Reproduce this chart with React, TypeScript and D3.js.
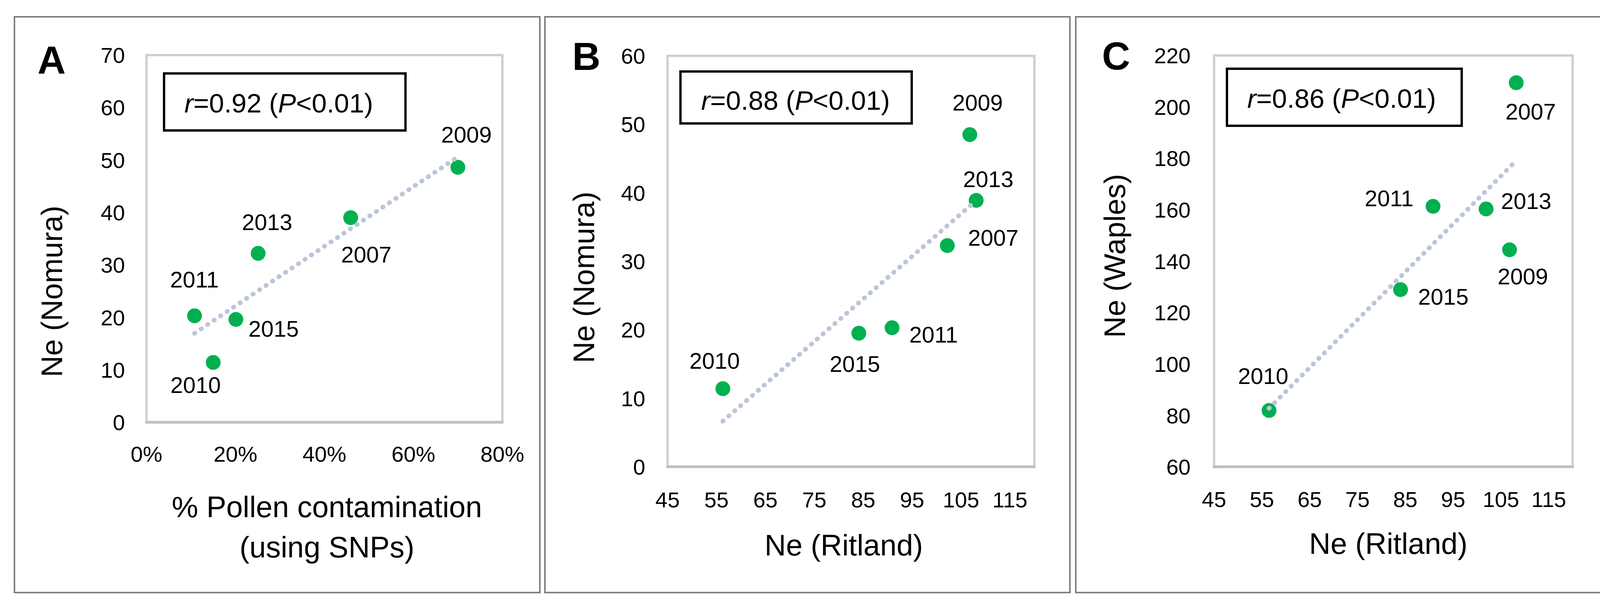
import React from 'react';
import { scaleLinear, line, format, mean, extent } from 'd3';

// Panel A: Ne (Nomura) vs % pollen contamination
const aYears = ['2009', '2007', '2013', '2011', '2015', '2010'];
const aPollen = [0.70, 0.459, 0.251, 0.108, 0.201, 0.150];
const aNomura = [48.6, 39.0, 32.2, 20.3, 19.6, 11.4];

// Panel B: Ne (Nomura) vs Ne (Ritland)
const bYears = ['2009', '2013', '2007', '2011', '2015', '2010'];
const bRitland = [106.8, 108.1, 102.2, 90.9, 84.1, 56.3];
const bNomura = [48.5, 38.9, 32.3, 20.3, 19.5, 11.4];

// Panel C: Ne (Waples) vs Ne (Ritland)
const cYears = ['2007', '2011', '2013', '2009', '2015', '2010'];
const cRitland = [108.2, 90.8, 101.9, 106.8, 84.0, 56.5];
const cWaples = [209.4, 161.3, 160.3, 144.4, 128.9, 81.9];

// ticks
const pollenTicks = [0, 0.2, 0.4, 0.6, 0.8];
const ritlandTicks = [45, 55, 65, 75, 85, 95, 105, 115];
const aYTicks = [0, 10, 20, 30, 40, 50, 60, 70];
const bYTicks = [0, 10, 20, 30, 40, 50, 60];
const cYTicks = [60, 80, 100, 120, 140, 160, 180, 200, 220];

const FONT = '"Liberation Sans", Arial, sans-serif';
const GREEN = '#00B050';

type Anchor = 'start' | 'middle' | 'end';
type LabelPos = [Anchor, number, number];

// where each year label sits, relative to its dot (anchor, dx, dy to baseline)
const aLabelPos: LabelPos[] = [
  ['middle', 22, -63], ['middle', 40, 115], ['middle', 23, -60],
  ['middle', 0, -72], ['start', 32, 44], ['middle', -45, 78],
];
const bLabelPos: LabelPos[] = [
  ['middle', 20, -62], ['middle', 31, -34], ['start', 53, 0],
  ['start', 44, 38], ['middle', -10, 99], ['middle', -21, -51],
];
const cLabelPos: LabelPos[] = [
  ['middle', 37, 94], ['end', -50, 0], ['start', 38, 0],
  ['middle', 34, 88], ['start', 45, 38], ['middle', -15, -68],
];

function fitLine(xs: number[], ys: number[]) {
  const mx = mean(xs) as number;
  const my = mean(ys) as number;
  let sxy = 0, sxx = 0;
  xs.forEach((x, i) => {
    sxy += (x - mx) * (ys[i] - my);
    sxx += (x - mx) * (x - mx);
  });
  const slope = sxy / sxx;
  return (x: number) => my + slope * (x - mx);
}

interface PanelProps {
  letter: string;
  frame: [number, number, number, number]; // x0, y0, x1, y1
  plot: [number, number, number, number];
  xDomain: [number, number];
  yDomain: [number, number];
  xTicks: number[];
  yTicks: number[];
  xFmt: (v: number) => string;
  xs: number[];
  ys: number[];
  years: string[];
  labelPos: LabelPos[];
  r: string;
  box: [number, number, number, number];
  rTextX: number;
  rTextY: number;
  yTitle: string;
  yTitleX: number;
  yTitleY: number;
  xTitle: string[];
  xTitleX: number;
  xTitleY: number;
  xTickY: number;
  yTickX: number;
  letterX: number;
  letterY: number;
}

const Panel: React.FC<PanelProps> = (p) => {
  const [px0, py0, px1, py1] = p.plot;
  const x = scaleLinear().domain(p.xDomain).range([px0, px1]);
  const y = scaleLinear().domain(p.yDomain).range([py1, py0]);
  const f = fitLine(p.xs, p.ys);
  const [xmin, xmax] = extent(p.xs) as [number, number];
  const trend = line<number>().x((d) => x(d)).y((d) => y(f(d)))([xmin, xmax]) || '';
  const [fx0, fy0, fx1, fy1] = p.frame;
  const [bx0, by0, bx1, by1] = p.box;

  return (
    <g fontFamily={FONT} fill="#000">
      <rect x={fx0} y={fy0} width={fx1 - fx0} height={fy1 - fy0} fill="#fff" stroke="#808080" strokeWidth={4} />
      <text x={p.letterX} y={p.letterY} fontSize={100} fontWeight="bold">{p.letter}</text>

      {/* plot area */}
      <rect x={px0} y={py0} width={px1 - px0} height={py1 - py0} fill="none" stroke="#CFCFCF" strokeWidth={6} />
      <line x1={px0 - 3} x2={px1 + 3} y1={py1} y2={py1} stroke="#BFBFBF" strokeWidth={7} />

      {p.yTicks.map((t) => (
        <text key={'y' + t} x={p.yTickX} y={y(t)} dy="0.36em" textAnchor="end" fontSize={56}>{t}</text>
      ))}
      {p.xTicks.map((t) => (
        <text key={'x' + t} x={x(t)} y={p.xTickY} textAnchor="middle" fontSize={56}>{p.xFmt(t)}</text>
      ))}

      {/* correlation box */}
      <rect x={bx0} y={by0} width={bx1 - bx0} height={by1 - by0} fill="#fff" stroke="#000" strokeWidth={6} />
      <text x={p.rTextX} y={p.rTextY} fontSize={69}>
        <tspan fontStyle="italic">r</tspan>
        <tspan>{'=' + p.r + ' ('}</tspan>
        <tspan fontStyle="italic">P</tspan>
        <tspan>{'<0.01)'}</tspan>
      </text>

      {p.xs.map((v, i) => (
        <circle key={'c' + i} cx={x(v)} cy={y(p.ys[i])} r={19} fill={GREEN} />
      ))}
      <path d={trend} fill="none" stroke="#BCC6D9" strokeWidth={12} strokeLinecap="round" strokeDasharray="1 19" />

      {p.xs.map((v, i) => {
        const [anchor, dx, dy] = p.labelPos[i];
        return (
          <text key={'l' + i} x={x(v) + dx} y={y(p.ys[i]) + dy} textAnchor={anchor} fontSize={58}>{p.years[i]}</text>
        );
      })}

      <text transform={`translate(${p.yTitleX},${p.yTitleY}) rotate(-90)`} textAnchor="middle" fontSize={76}>{p.yTitle}</text>
      {p.xTitle.map((s, i) => (
        <text key={'t' + i} x={p.xTitleX} y={p.xTitleY + i * 103} textAnchor="middle" fontSize={76}>{s}</text>
      ))}
    </g>
  );
};

const pct = format('.0%');
const plain = (v: number) => String(v);

export default function App() {
  return (
    <div style={{ position: 'absolute', left: 0, top: 0 }}>
      <svg width={4142} height={1554} style={{ display: 'block', background: '#fff' }}>
        <Panel
          letter="A" frame={[37, 43, 1382, 1517]} plot={[375, 141, 1286, 1081]}
          xDomain={[0, 0.8]} yDomain={[0, 70]} xTicks={pollenTicks} yTicks={aYTicks} xFmt={pct}
          xs={aPollen} ys={aNomura} years={aYears} labelPos={aLabelPos}
          r="0.92" box={[420, 188, 1038, 334]} rTextX={472} rTextY={288}
          yTitle="Ne (Nomura)" yTitleX={159} yTitleY={746}
          xTitle={['% Pollen contamination', '(using SNPs)']} xTitleX={837} xTitleY={1324}
          xTickY={1182} yTickX={320} letterX={96} letterY={189}
        />
        <Panel
          letter="B" frame={[1395, 43, 2739, 1517]} plot={[1709, 143, 2648, 1195]}
          xDomain={[45, 120]} yDomain={[0, 60]} xTicks={ritlandTicks} yTicks={bYTicks} xFmt={plain}
          xs={bRitland} ys={bNomura} years={bYears} labelPos={bLabelPos}
          r="0.88" box={[1742, 183, 2334, 316]} rTextX={1795} rTextY={281}
          yTitle="Ne (Nomura)" yTitleX={1521} yTitleY={710}
          xTitle={['Ne (Ritland)']} xTitleX={2160} xTitleY={1422}
          xTickY={1299} yTickX={1652} letterX={1465} letterY={179}
        />
        <Panel
          letter="C" frame={[2754, 43, 4120, 1517]} plot={[3108, 142, 4026, 1195]}
          xDomain={[45, 120]} yDomain={[60, 220]} xTicks={ritlandTicks} yTicks={cYTicks} xFmt={plain}
          xs={cRitland} ys={cWaples} years={cYears} labelPos={cLabelPos}
          r="0.86" box={[3141, 176, 3742, 322]} rTextX={3193} rTextY={276}
          yTitle="Ne (Waples)" yTitleX={2880} yTitleY={655}
          xTitle={['Ne (Ritland)']} xTitleX={3554} xTitleY={1418}
          xTickY={1298} yTickX={3048} letterX={2821} letterY={178}
        />
      </svg>
    </div>
  );
}
